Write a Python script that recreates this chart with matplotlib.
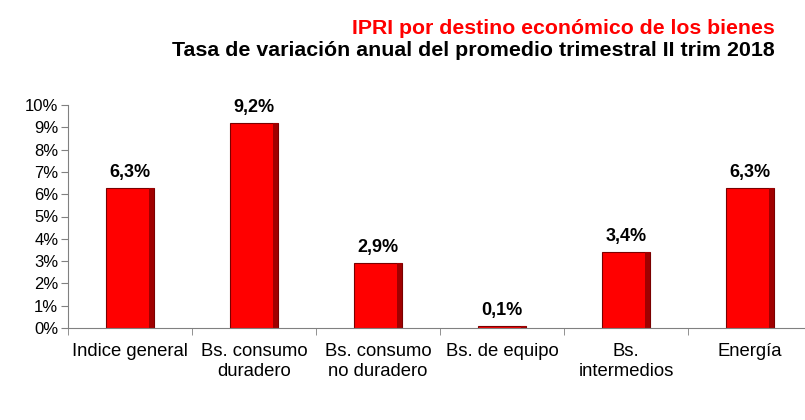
import matplotlib.pyplot as plt
import numpy as np

plt.rcParams['font.family'] = ['Liberation Sans', 'DejaVu Sans']

categories = ["Indice general", "Bs. consumo\nduradero", "Bs. consumo\nno duradero",
              "Bs. de equipo", "Bs.\nintermedios", "Energía"]
values = [6.3, 9.2, 2.9, 0.1, 3.4, 6.3]
labels = ["6,3%", "9,2%", "2,9%", "0,1%", "3,4%", "6,3%"]

fig = plt.figure(figsize=(8.05, 4.2), dpi=100)
ax = fig.add_axes([68/805, 92/420, 744/805, 223/420])

x = np.arange(len(categories))
ax.bar(x, values, width=0.39, color='#ff0000', edgecolor='#7a0000', linewidth=0.8)
# darker right side for the bevel look
ax.bar(x + 0.39/2 - 0.02, values, width=0.04, color='#a00000', linewidth=0)

for xi, v, t in zip(x, values, labels):
    ax.annotate(t, (xi, v), xytext=(0, 5), textcoords='offset points',
                ha='center', va='bottom', fontsize=13, fontweight='bold')

ax.set_xlim(-0.5, 5.5)
ax.set_ylim(0, 10)
ax.set_yticks(range(0, 11))
ax.set_yticklabels([f"{i}%" for i in range(0, 11)], fontsize=12)
ax.set_xticks(x)
ax.set_xticklabels(categories, fontsize=13.3)
ax.tick_params(axis='x', length=0, pad=11)
ax.set_xticks(np.arange(-0.5, 6, 1), minor=True)
ax.tick_params(axis='x', which='minor', length=5, color='#808080')
ax.tick_params(axis='y', length=5, color='#808080', pad=2)
for s in ['top', 'right']:
    ax.spines[s].set_visible(False)
for s in ['left', 'bottom']:
    ax.spines[s].set_color('#808080')

fig.text(775/805, 1 - 28/420, "IPRI por destino económico de los bienes", color='#ff0000',
         fontsize=15.3, fontweight='bold', ha='right', va='center')
fig.text(775/805, 1 - 50/420, "Tasa de variación anual del promedio trimestral II trim 2018",
         color='black', fontsize=15.4, fontweight='bold', ha='right', va='center')

fig.savefig('out.png', dpi=100)
